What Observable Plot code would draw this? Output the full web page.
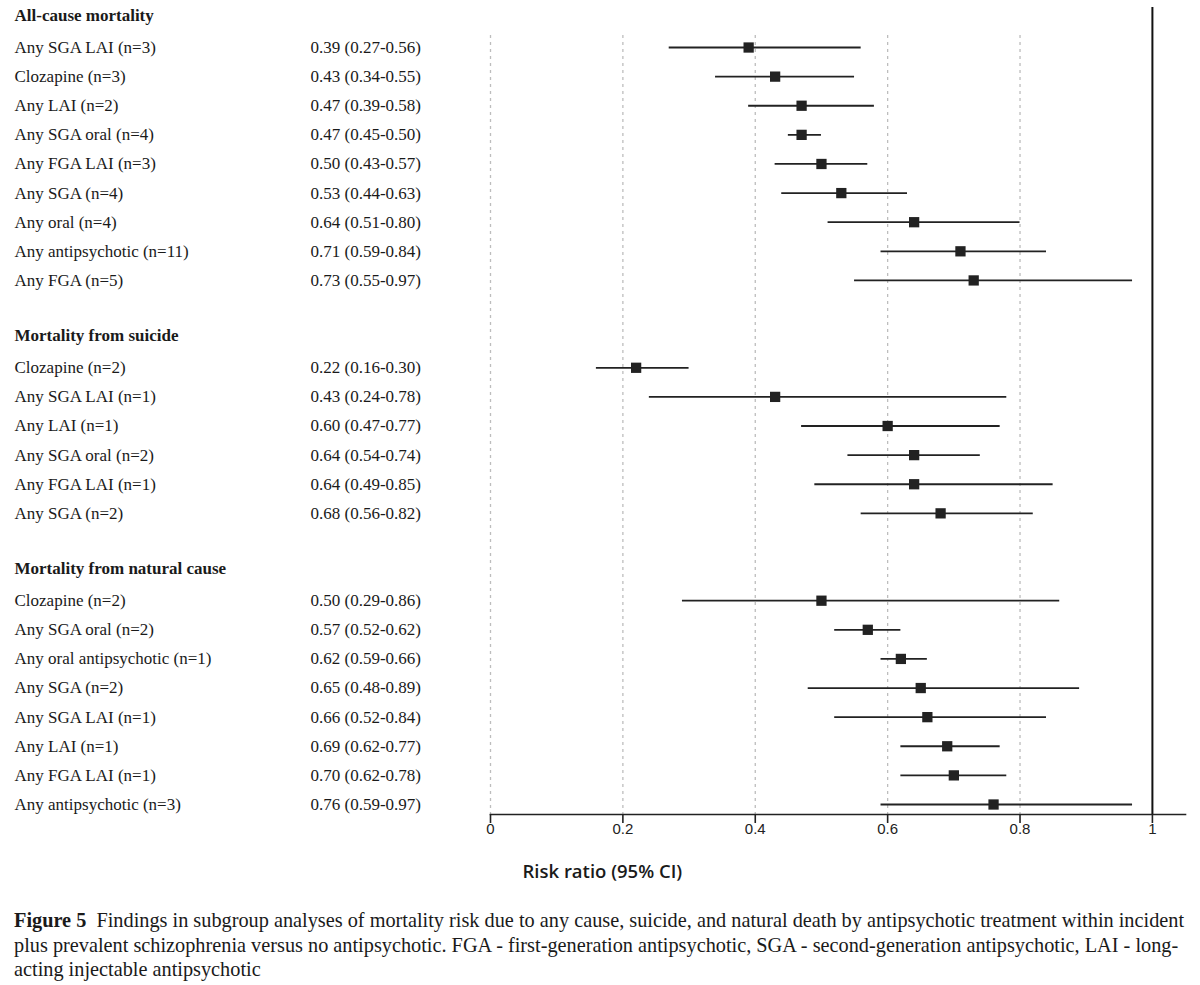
<!DOCTYPE html>
<html><head><meta charset="utf-8">
<script src="https://cdn.jsdelivr.net/npm/d3@7"></script>
<script src="https://cdn.jsdelivr.net/npm/@observablehq/plot@0.6"></script>
<style>
body{margin:0;background:#fff;width:1200px;}
#chart svg{display:block}
#caption{margin:13px 0 0 14px;font-family:"Liberation Serif",serif;font-size:20.3px;line-height:24.5px;color:#1a1a1a;white-space:nowrap;}
#caption b{font-weight:bold;}
</style></head><body>
<div id="chart"></div>
<div id="caption"><b>Figure 5</b>&nbsp; Findings in subgroup analyses of mortality risk due to any cause, suicide, and natural death by antipsychotic treatment within incident<br>plus prevalent schizophrenia versus no antipsychotic. FGA - first-generation antipsychotic, SGA - second-generation antipsychotic, LAI - long-<br>acting injectable antipsychotic</div>
<script>
const groups = ["All-cause mortality", "Mortality from suicide", "Mortality from natural cause"];

const allCauseLabels = ["Any SGA LAI (n=3)", "Clozapine (n=3)", "Any LAI (n=2)", "Any SGA oral (n=4)", "Any FGA LAI (n=3)", "Any SGA (n=4)", "Any oral (n=4)", "Any antipsychotic (n=11)", "Any FGA (n=5)"];
const allCauseEst = [0.39, 0.43, 0.47, 0.47, 0.50, 0.53, 0.64, 0.71, 0.73];
const allCauseLo  = [0.27, 0.34, 0.39, 0.45, 0.43, 0.44, 0.51, 0.59, 0.55];
const allCauseHi  = [0.56, 0.55, 0.58, 0.50, 0.57, 0.63, 0.80, 0.84, 0.97];

const suicideLabels = ["Clozapine (n=2)", "Any SGA LAI (n=1)", "Any LAI (n=1)", "Any SGA oral (n=2)", "Any FGA LAI (n=1)", "Any SGA (n=2)"];
const suicideEst = [0.22, 0.43, 0.60, 0.64, 0.64, 0.68];
const suicideLo  = [0.16, 0.24, 0.47, 0.54, 0.49, 0.56];
const suicideHi  = [0.30, 0.78, 0.77, 0.74, 0.85, 0.82];

const naturalLabels = ["Clozapine (n=2)", "Any SGA oral (n=2)", "Any oral antipsychotic (n=1)", "Any SGA (n=2)", "Any SGA LAI (n=1)", "Any LAI (n=1)", "Any FGA LAI (n=1)", "Any antipsychotic (n=3)"];
const naturalEst = [0.50, 0.57, 0.62, 0.65, 0.66, 0.69, 0.70, 0.76];
const naturalLo  = [0.29, 0.52, 0.59, 0.48, 0.52, 0.62, 0.62, 0.59];
const naturalHi  = [0.86, 0.62, 0.66, 0.89, 0.84, 0.77, 0.78, 0.97];

const xTicks = [0, 0.2, 0.4, 0.6, 0.8, 1];
const xTickLabels = ["0", "0.2", "0.4", "0.6", "0.8", "1"];
const gridTicks = [0, 0.2, 0.4, 0.6, 0.8];
const axisTitle = "Risk ratio (95% CI)";

const series = [
  [allCauseLabels, allCauseEst, allCauseLo, allCauseHi],
  [suicideLabels, suicideEst, suicideLo, suicideHi],
  [naturalLabels, naturalEst, naturalLo, naturalHi]
];

const headers = [], items = [];
let row = 0;
series.forEach(([labels, est, lo, hi], g) => {
  headers.push({row, text: groups[g]});
  row++;
  labels.forEach((label, k) => {
    items.push({row, label, est: est[k], lo: lo[k], hi: hi[k],
      ci: `${est[k].toFixed(2)} (${lo[k].toFixed(2)}-${hi[k].toFixed(2)})`});
    row++;
  });
  row++;
});
const lastRow = items[items.length - 1].row;
const tickData = xTicks.map((v, i) => ({v, label: xTickLabels[i]}));

const chart = Plot.plot({
  width: 1200,
  height: 895,
  marginLeft: 490,
  marginRight: 15,
  marginTop: 7,
  marginBottom: 81,
  x: {domain: [0, 1.05], axis: null},
  y: {domain: [0, lastRow], range: [17.9, 804], axis: null},
  style: {fontFamily: "'Liberation Serif', serif", color: "#1a1a1a", background: "#fff", overflow: "visible"},
  marks: [
    Plot.ruleX(gridTicks, {stroke: "#bdbdbd", strokeWidth: 1.3, strokeDasharray: "3,4", insetTop: 28}),
    Plot.ruleX([1], {stroke: "#111", strokeWidth: 2}),
    Plot.frame({anchor: "bottom", stroke: "#222", strokeWidth: 1.6}),
    Plot.axisX({ticks: xTicks, tickSize: 9, tickFormat: () => "", label: null, stroke: "#222", strokeWidth: 1.6}),
    Plot.text(tickData, {x: "v", text: "label", frameAnchor: "bottom", dy: 19,
      fontFamily: "'Liberation Sans', Arial, sans-serif", fontSize: 15, fill: "#222"}),
    Plot.ruleY(items, {y: "row", x1: "lo", x2: "hi", stroke: "#222", strokeWidth: 1.8}),
    Plot.dot(items, {x: "est", y: "row", symbol: "square", r: 5.8, fill: "#222", stroke: null}),
    Plot.text(headers, {y: "row", text: "text", frameAnchor: "left", dx: -476, dy: -3, textAnchor: "start", fontWeight: "bold", fontSize: 17}),
    Plot.text(items, {y: "row", text: "label", frameAnchor: "left", dx: -476, textAnchor: "start", fontSize: 17}),
    Plot.text(items, {y: "row", text: "ci", frameAnchor: "left", dx: -180, textAnchor: "start", fontSize: 17}),
    Plot.text([axisTitle], {text: d => d, frameAnchor: "bottom-left", dx: 32, dy: 63, textAnchor: "start",
      fontFamily: "'Open Sans', sans-serif", fontWeight: 600, fontSize: 18.5})
  ]
});
document.getElementById("chart").appendChild(chart);
</script>
</body></html>
